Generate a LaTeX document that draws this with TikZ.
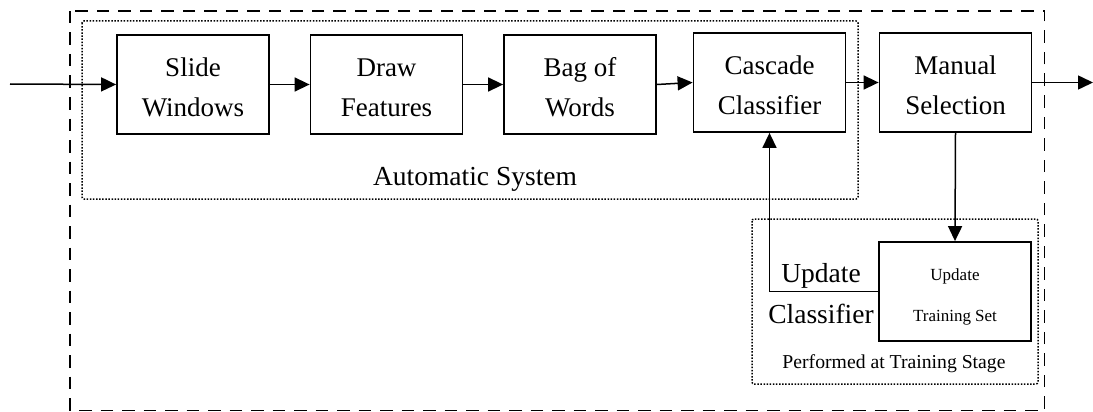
\documentclass[tikz,border=0pt]{standalone}
\usepackage{fontspec}
\setmainfont{Liberation Serif}
\usetikzlibrary{arrows.meta}

\begin{document}
\begin{tikzpicture}[x=1pt,y=-1pt,
  stagebox/.style={draw, line width=1.8pt, minimum width=152pt, minimum height=99pt, inner sep=0pt},
  boxtext/.style={align=center, inner sep=0pt, font=\fontsize{27}{40}\selectfont},
  smalltext/.style={align=center, inner sep=0pt, font=\fontsize{17}{41}\selectfont},
  flow/.style={line width=1.5pt, -{Triangle[length=15pt,width=14pt]}},
  frame/.style={line width=1.6pt, dash pattern=on 12.5pt off 9pt},
  group/.style={line width=1.5pt, dash pattern=on 1.5pt off 1.6pt, rounded corners=2pt}]
\useasboundingbox (0,0) rectangle (1093,412);

% outer frame and the two groups
\draw[frame] (70,11) rectangle (1044.5,410.5);
\draw[group] (82,21) rectangle (858,199);
\draw[group] (752,219) rectangle (1038,384);

% processing stages
\node[stagebox] (sw) at (193,84.5) {};
\node[stagebox] (df) at (386.5,84.5) {};
\node[stagebox] (bw) at (580,84.5) {};
\node[stagebox] (cc) at (769.5,82.5) {};
\node[stagebox] (ms) at (955.5,82.5) {};
\node[stagebox] (ut) at (955,291.5) {};

\node[boxtext] (swt) at ([yshift=-3pt]sw.center) {Slide\\Windows};
\node[boxtext] (dft) at ([yshift=-3pt]df.center) {Draw\\Features};
\node[boxtext] (bwt) at ([yshift=-3pt]bw.center) {Bag of\\Words};
\node[boxtext] (cct) at ([yshift=-3pt]cc.center) {Cascade\\Classifier};
\node[boxtext] (mst) at ([yshift=-3pt]ms.center) {Manual\\Selection};
\node[smalltext] (utt) at ([yshift=-5pt]ut.center) {Update\\Training Set};

% captions
\node[anchor=base, inner sep=0pt, font=\fontsize{27.5}{33}\selectfont] (auto) at (475,185) {Automatic System};
\node[anchor=base, inner sep=0pt, font=\fontsize{19.7}{24}\selectfont] (perf) at (894,368) {Performed at Training Stage};
\node[align=center, inner sep=0pt, font=\fontsize{27.5}{41}\selectfont] (ucl) at (821,293.2) {Update\\Classifier};

% connectors
\coordinate (in) at (10,84);
\coordinate (out) at (1093,82.5);
\draw[flow] (in) -- (sw.west);
\draw[flow] (sw.east) -- (df.west);
\draw[flow] (df.east) -- (bw.west);
\draw[flow] (bw.east) -- (cc.west);
\draw[flow] (cc.east) -- (ms.west);
\draw[flow] (ms.east) -- (out);
\draw[flow] (ms.south) -- (ut.north);
\draw[flow] (ut.west) -| (cc.south);
\end{tikzpicture}
\end{document}
